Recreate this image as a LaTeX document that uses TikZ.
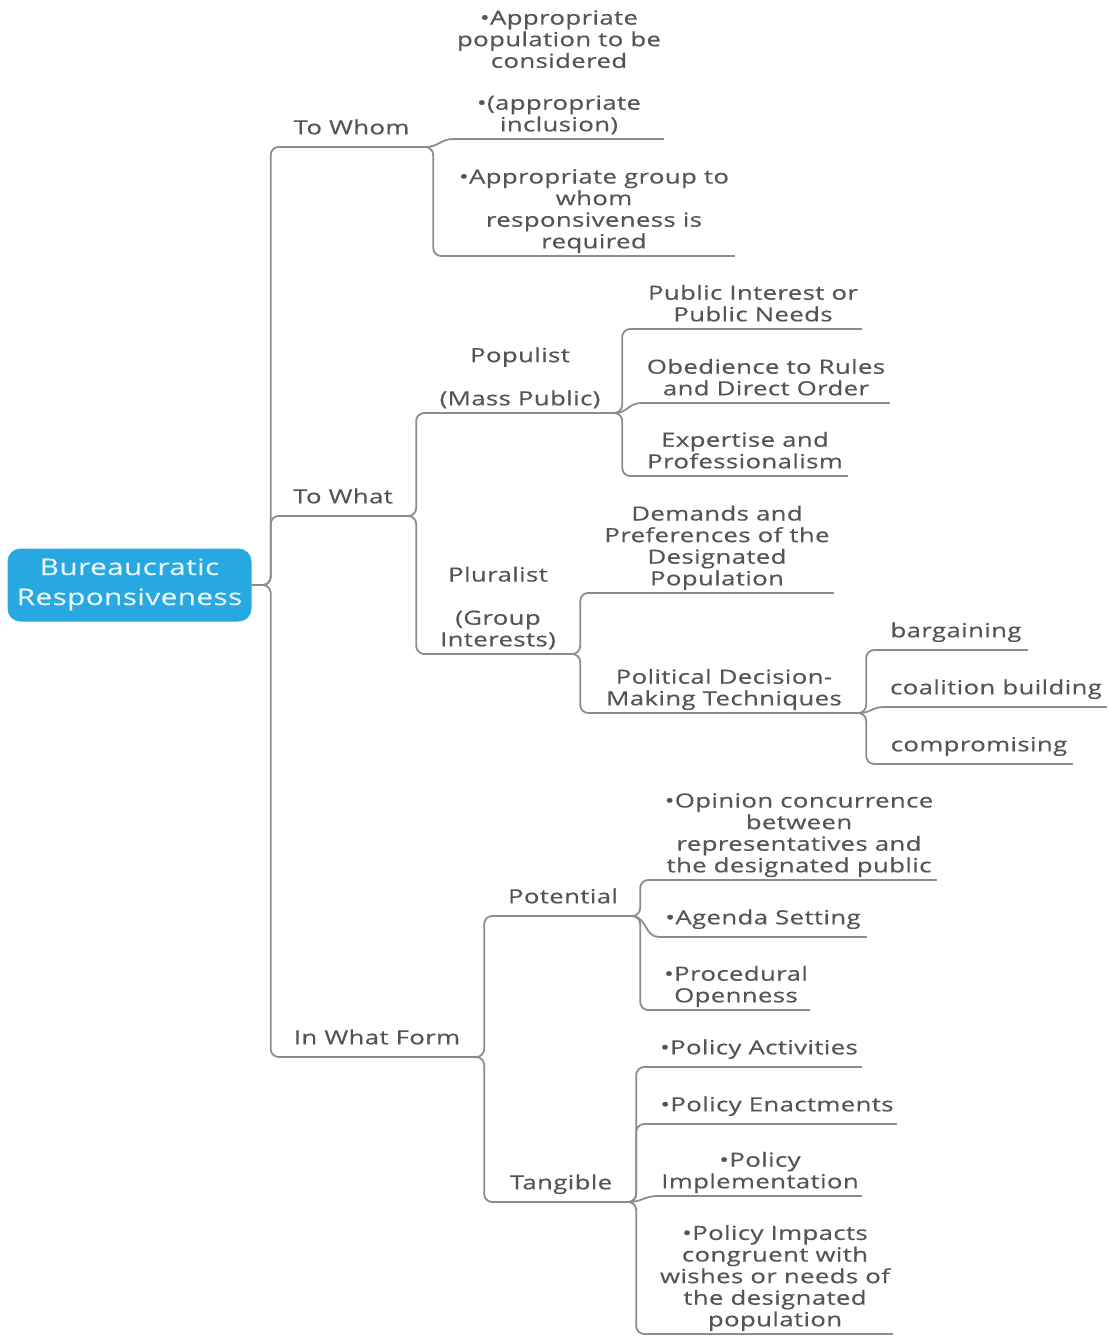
\documentclass[tikz,border=0pt]{standalone}
\usepackage{fontspec}
\setmainfont{Open Sans}[FakeStretch=1.32,LetterSpace=2,FakeBold=0.5]
\newfontfamily\rootfont{Open Sans}[FakeStretch=1.3,LetterSpace=2,FakeBold=0.3]
\definecolor{inkgray}{HTML}{555555}
\definecolor{linkgray}{HTML}{8C8C8C}
\definecolor{rootblue}{HTML}{27A8E0}
\definecolor{roottext}{HTML}{E9F6FC}
% centred lines whose baseline is the baseline of the last line
\newcommand\topiclines[1]{\begin{tabular}[b]{@{}c@{}}#1\end{tabular}}
\begin{document}
\begin{tikzpicture}[x=1pt,y=-1pt,
  topic/.style={anchor=south, inner xsep=0pt, inner ysep=7.5pt, text depth=0pt,
    text=inkgray, font=\fontsize{19.5}{21.6}\selectfont},
  single/.style={topic, inner ysep=12.5pt},
  link/.style={draw=linkgray, line width=1.8pt, rounded corners=8pt},
  near/.style={draw=linkgray, line width=1.8pt},
]
\useasboundingbox (0,0) rectangle (1110,1342);

% central topic
\node[fill=rootblue, rounded corners=13pt, minimum width=244pt, minimum height=73pt,
  inner sep=0pt, text height=56.5pt, text depth=16.5pt, text=roottext,
  font=\rootfont\fontsize{22.8}{30}\selectfont] (root) at (129.5,585)
  {\topiclines{Bureaucratic\\Responsiveness}};

% main branches
\node[single, minimum width=147pt] (whom) at (351.5,147) {To Whom};
\node[single, minimum width=130pt] (what) at (343,516) {To What};
\node[single, minimum width=198pt] (form) at (377,1057) {In What Form};

% To Whom
\node[topic] (whomA) at (559,75.5) {\topiclines{•Appropriate\\population to be\\considered}};
\node[topic, minimum width=210pt] (whomB) at (559,139) {\topiclines{•(appropriate\\inclusion)}};
\node[topic, minimum width=282pt] (whomC) at (594,256)
  {\topiclines{•Appropriate group to\\whom\\responsiveness is\\required}};

% To What
\node[topic, minimum width=188pt] (populist) at (520,413) {\topiclines{Populist\\[21.6pt](Mass Public)}};
\node[topic, minimum width=148pt] (pluralist) at (498,654) {\topiclines{Pluralist\\[21.6pt](Group\\Interests)}};
\node[topic, minimum width=218pt] (pubint) at (753,329) {\topiclines{Public Interest or\\Public Needs}};
\node[topic, minimum width=248pt] (obed) at (766,403) {\topiclines{Obedience to Rules\\and Direct Order}};
\node[topic, minimum width=206pt] (expert) at (745,476) {\topiclines{Expertise and\\Professionalism}};
\node[topic, minimum width=234pt] (demands) at (717,593)
  {\topiclines{Demands and\\Preferences of the\\Designated\\Population}};
\node[topic, minimum width=268pt] (political) at (724,713) {\topiclines{Political Decision-\\Making Techniques}};
\node[single, minimum width=144pt] (barg) at (956,650) {bargaining};
\node[single, minimum width=222pt] (coal) at (996,707) {coalition building};
\node[single, minimum width=188pt] (comp) at (979,764) {compromising};

% In What Form
\node[single, minimum width=138pt] (potential) at (563,916) {Potential};
\node[single, minimum width=134pt] (tangible) at (561,1202) {Tangible};
\node[topic, minimum width=276pt] (opinion) at (799,880)
  {\topiclines{•Opinion concurrence\\between\\representatives and\\the designated public}};
\node[single, minimum width=208pt] (agenda) at (763,937) {•Agenda Setting};
\node[topic, minimum width=148pt] (proc) at (736,1010) {\topiclines{•Procedural\\Openness}};
\node[single, minimum width=206pt] (pact) at (759,1067) {•Policy Activities};
\node[single, minimum width=240pt] (penact) at (777,1124) {•Policy Enactments};
\node[topic, minimum width=204pt] (pimpl) at (760,1196) {\topiclines{•Policy\\Implementation}};
\node[topic, minimum width=236pt] (pimpact) at (775,1334)
  {\topiclines{•Policy Impacts\\congruent with\\wishes or needs of\\the designated\\population}};

% underlines
\foreach \n in {whom,what,form,whomB,whomC,populist,pluralist,pubint,obed,expert,
  demands,political,barg,coal,comp,potential,tangible,opinion,agenda,proc,
  pact,penact,pimpl,pimpact}
  \draw[near] (\n.south west) -- (\n.south east);

% connectors
\draw[link] (root.east) -- ++(19,0) |- (whom.south west);
\draw[link] (root.east) -- ++(19,0) |- (what.south west);
\draw[link] (root.east) -- ++(19,0) |- (form.south west);

\draw[near] (whom.south east) .. controls +(14,0) and +(-14,0) .. (whomB.south west);
\draw[link] (whom.south east) -- ++(8,0) |- (whomC.south west);

\draw[link] (what.south east) -- ++(8,0) |- (populist.south west);
\draw[link] (what.south east) -- ++(8,0) |- (pluralist.south west);

\draw[link] (populist.south east) -- ++(8,0) |- (pubint.south west);
\draw[near] (populist.south east) .. controls +(14,0) and +(-14,0) .. (obed.south west);
\draw[link] (populist.south east) -- ++(8,0) |- (expert.south west);

\draw[link] (pluralist.south east) -- ++(8,0) |- (demands.south west);
\draw[link] (pluralist.south east) -- ++(8,0) |- (political.south west);

\draw[link] (political.south east) -- ++(8,0) |- (barg.south west);
\draw[near] (political.south east) .. controls +(14,0) and +(-14,0) .. (coal.south west);
\draw[link] (political.south east) -- ++(8,0) |- (comp.south west);

\draw[link] (form.south east) -- ++(8,0) |- (potential.south west);
\draw[link] (form.south east) -- ++(8,0) |- (tangible.south west);

\draw[link] (potential.south east) -- ++(8,0) |- (opinion.south west);
\draw[near] (potential.south east) .. controls +(14,0) and +(-14,0) .. (agenda.south west);
\draw[link] (potential.south east) -- ++(8,0) |- (proc.south west);

\draw[link] (tangible.south east) -- ++(8,0) |- (pact.south west);
\draw[link] (tangible.south east) -- ++(8,0) |- (penact.south west);
\draw[near] (tangible.south east) .. controls +(14,0) and +(-14,0) .. (pimpl.south west);
\draw[link] (tangible.south east) -- ++(8,0) |- (pimpact.south west);
\end{tikzpicture}
\end{document}
